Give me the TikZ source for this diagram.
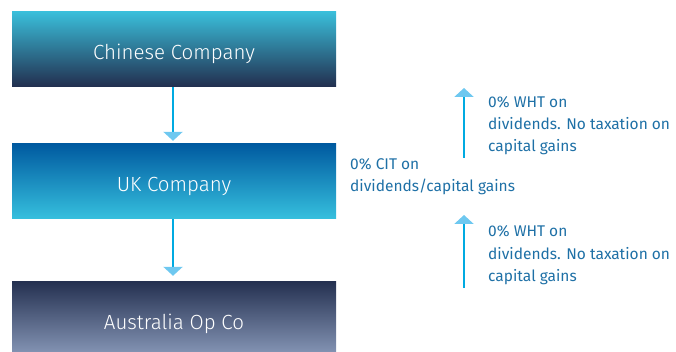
\documentclass[tikz,border=0pt]{standalone}
\usepackage{fontspec}
\setmainfont{Fira Sans Light}
\newfontfamily\notefont{Fira Sans}
\usetikzlibrary{arrows.meta}
\definecolor{txtblue}{RGB}{30,112,166}
\definecolor{linecol}{RGB}{0,170,225}
\definecolor{headcol}{RGB}{110,200,240}
\definecolor{aTop}{RGB}{58,190,218}
\definecolor{aBot}{RGB}{34,46,78}
\definecolor{bTop}{RGB}{0,90,160}
\definecolor{bBot}{RGB}{54,192,222}
\definecolor{cTop}{RGB}{36,48,80}
\definecolor{cBot}{RGB}{130,146,178}
\begin{document}
\begin{tikzpicture}[x=1pt,y=-1pt,
  box/.style={draw=none,minimum width=324pt,minimum height=75pt,inner sep=0pt},
  boxtext/.style={text=white,anchor=base,inner sep=0pt,font=\fontsize{20.5}{24}\selectfont},
  conn/.style={draw=linecol,line width=2.6pt,
     -{Triangle[color=headcol,width=19pt,length=9pt]}},
  note/.style={text=txtblue,align=left,anchor=base west,inner sep=0pt,
     font=\notefont\fontsize{15.5}{22}\selectfont}]
\useasboundingbox (0,0) rectangle (676,352);
\node[box,shading=axis,top color=aTop,bottom color=aBot] (cn) at (174,49.5) {};
\node[boxtext] (cnt) at (174,60) {Chinese Company};
\node[box,shading=axis,top color=bTop,bottom color=bBot] (uk) at (174,181.5) {};
\node[boxtext] (ukt) at (174,192) {UK Company};
\node[box,minimum height=71pt,shading=axis,top color=cTop,bottom color=cBot] (au) at (174,316.5) {};
\node[boxtext] (aut) at (174,329) {Australia Op Co};
\draw[conn,shorten >=3pt] ([xshift=-1pt]cn.south) -- ([xshift=-1pt]uk.north);
\draw[conn,shorten >=5pt] ([xshift=-1pt]uk.south) -- ([xshift=-1pt]au.north);
\coordinate (u1s) at (464,158);
\coordinate (u1e) at (464,88);
\coordinate (u2s) at (464,288);
\coordinate (u2e) at (464,215);
\draw[conn] (u1s) -- (u1e);
\draw[conn] (u2s) -- (u2e);
\node[note] (w1) at (488,152) {0\% WHT on\\dividends. No taxation on\\capital gains};
\node[note] (w2) at (488,281) {0\% WHT on\\dividends. No taxation on\\capital gains};
\node[note] (cit) at (350,192) {0\% CIT on\\dividends/capital gains};
\end{tikzpicture}
\end{document}
